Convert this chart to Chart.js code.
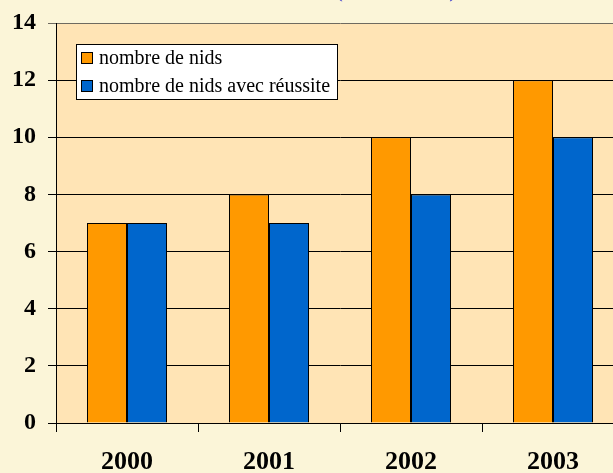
<!DOCTYPE html>
<html>
<head>
<meta charset="utf-8">
<script src="https://cdn.jsdelivr.net/npm/chart.js@4/dist/chart.umd.min.js"></script>
<style>
html,body{margin:0;padding:0;width:613px;height:473px;overflow:hidden;background:#FBF5D8;font-family:"Liberation Serif","Times New Roman",serif;}
#wrap{position:absolute;left:0;top:-30px;width:650px;height:503px;}
</style>
</head>
<body>
<div id="wrap"><canvas id="c" width="650" height="503"></canvas></div>
<script>
const categories = ['2000', '2001', '2002', '2003'];
const nids = [7, 8, 10, 12];
const nidsReussite = [7, 7, 8, 10];
const seriesNames = ['nombre de nids', 'nombre de nids avec réussite'];
const yTicks = [0, 2, 4, 6, 8, 10, 12, 14];
const titleText = '(2000 - 2003)';

const OFF = 30; // canvas shifted up by this many px
const FAM = '"Liberation Serif", "Times New Roman", Times, serif';

const bgPlugin = {
  id: 'bg',
  beforeDraw(chart) {
    const a = chart.chartArea, ctx = chart.ctx;
    ctx.save();
    ctx.fillStyle = '#FFE4B5';
    ctx.fillRect(a.left, a.top, a.right - a.left, a.bottom - a.top);
    ctx.restore();
  },
  afterDraw(chart) {
    const ctx = chart.ctx;
    ctx.save();
    ctx.fillStyle = '#3333CC';
    ctx.font = '22px ' + FAM;
    ctx.textBaseline = 'alphabetic';
    ctx.textAlign = 'center';
    ctx.fillText('Nombre de nids ' + titleText, 323, OFF - 3);
    const lx = 76.5, ly = 44.5 + OFF, lw = 261, lh = 55;
    ctx.fillStyle = '#FFFFFF';
    ctx.fillRect(lx, ly, lw, lh);
    ctx.strokeStyle = '#000';
    ctx.lineWidth = 1;
    ctx.strokeRect(lx, ly, lw, lh);
    ctx.font = '20px ' + FAM;
    ctx.textAlign = 'left';
    ctx.textBaseline = 'middle';
    chart.data.datasets.forEach((ds, i) => {
      const y = 52.5 + OFF + i * 28;
      ctx.fillStyle = ds.backgroundColor;
      ctx.fillRect(81.5, y, 11, 11);
      ctx.strokeStyle = '#000';
      ctx.strokeRect(81.5, y, 11, 11);
      ctx.fillStyle = '#000';
      ctx.fillText(ds.label, 99, y + 6);
    });
    ctx.restore();
  }
};

function build() {
  new Chart(document.getElementById('c'), {
    type: 'bar',
    data: {
      labels: categories,
      datasets: [
        { label: seriesNames[0], data: nids, backgroundColor: '#FF9900', borderColor: '#000', borderWidth: 1 },
        { label: seriesNames[1], data: nidsReussite, backgroundColor: '#0066CC', borderColor: '#000', borderWidth: 1 }
      ]
    },
    options: {
      responsive: false,
      animation: false,
      layout: { padding: { top: 53, right: 26, left: 0, bottom: 0 } },
      datasets: { bar: { categoryPercentage: 80 / 142, barPercentage: 1 } },
      plugins: { legend: { display: false }, title: { display: false }, tooltip: { enabled: false } },
      scales: {
        x: {
          offset: true,
          grid: { offset: true, drawOnChartArea: false, drawTicks: true, tickLength: 9, color: '#000', lineWidth: 1 },
          border: { color: '#000', width: 1 },
          ticks: { color: '#000', font: { family: FAM, size: 26, weight: 'bold' }, padding: 15 },
          afterFit(s) { s.height = 50; }
        },
        y: {
          min: 0, max: 14,
          afterBuildTicks(s) { s.ticks = yTicks.map(v => ({ value: v })); },
          grid: {
            color: c => (c.tick && c.tick.value === 14) ? '#6E6A60' : '#000',
            lineWidth: 1, drawTicks: true, tickLength: 8
          },
          border: { color: '#000', width: 1 },
          ticks: { color: '#000', font: { family: FAM, size: 24, weight: 'bold' }, padding: 12 },
          afterFit(s) { s.width = 56; }
        }
      }
    },
    plugins: [bgPlugin]
  });
}
if (document.fonts && document.fonts.load) {
  Promise.all([
    document.fonts.load('bold 24px "Liberation Serif"'),
    document.fonts.load('20px "Liberation Serif"')
  ]).then(build, build);
} else { build(); }
</script>
</body>
</html>
